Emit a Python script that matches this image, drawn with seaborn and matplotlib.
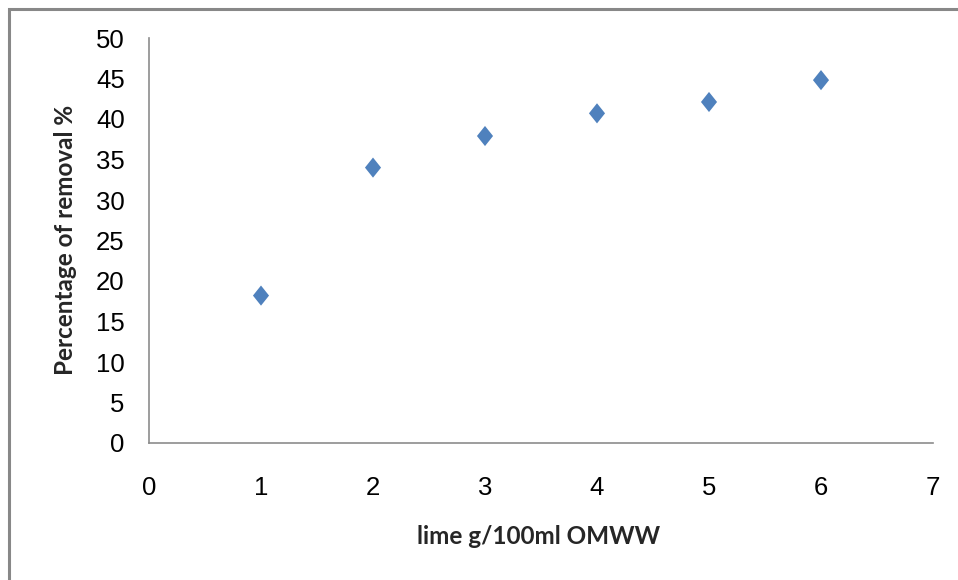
import matplotlib
matplotlib.use("Agg")
import matplotlib.pyplot as plt
from matplotlib.path import Path
from matplotlib.patches import Rectangle
import seaborn as sns
import pandas as pd

lime_dose = [1, 2, 3, 4, 5, 6]
removal_pct = [18.2, 34.0, 37.9, 40.7, 42.1, 44.8]
x_ticks = [0, 1, 2, 3, 4, 5, 6, 7]
y_ticks = [0, 5, 10, 15, 20, 25, 30, 35, 40, 45, 50]

df = pd.DataFrame({"x": lime_dose, "y": removal_pct})

sns.set_style("white")
plt.rcParams["font.family"] = ["Liberation Sans", "DejaVu Sans"]

fig = plt.figure(figsize=(9.58, 5.8), dpi=100)
ax = fig.add_axes([149/958, 1-443/580, (933-149)/958, (443-38)/580])

diamond = Path([(0, 1), (0.8, 0), (0, -1), (-0.8, 0), (0, 1)],
               [Path.MOVETO, Path.LINETO, Path.LINETO, Path.LINETO, Path.CLOSEPOLY])
sns.scatterplot(data=df, x="x", y="y", ax=ax, marker=diamond, s=210,
                color="#4F81BD", edgecolor="none", linewidth=0, clip_on=False)

ax.set_xlim(0, 7)
ax.set_ylim(0, 50)
ax.set_xticks(x_ticks)
ax.set_yticks(y_ticks)
ax.tick_params(axis="both", length=0, labelsize=18.5, colors="black")
ax.tick_params(axis="y", pad=17.5)
ax.tick_params(axis="x", pad=24)
for s in ["top", "right"]:
    ax.spines[s].set_visible(False)
for s in ["left", "bottom"]:
    ax.spines[s].set_color("#8c8c8c")
    ax.spines[s].set_linewidth(1.2)

ax.set_xlabel("lime g/100ml OMWW", fontsize=17.5, fontweight="bold",
              family=["Lato", "DejaVu Sans"])
ax.set_ylabel("Percentage of removal %", fontsize=17.5, fontweight="bold",
              family=["Lato", "DejaVu Sans"])
ax.xaxis.set_label_coords((539-149)/(933-149), -(525-443)/(443-38))
ax.yaxis.set_label_coords(-(149-77)/(933-149), (443-240)/(443-38))

border = Rectangle((8.5/958, -0.5), 2, 1 - 8.5/580 + 0.5, transform=fig.transFigure,
                   fill=False, edgecolor="#888888", linewidth=2.2, clip_on=False)
fig.patches.append(border)

fig.savefig("out.png", dpi=100)
